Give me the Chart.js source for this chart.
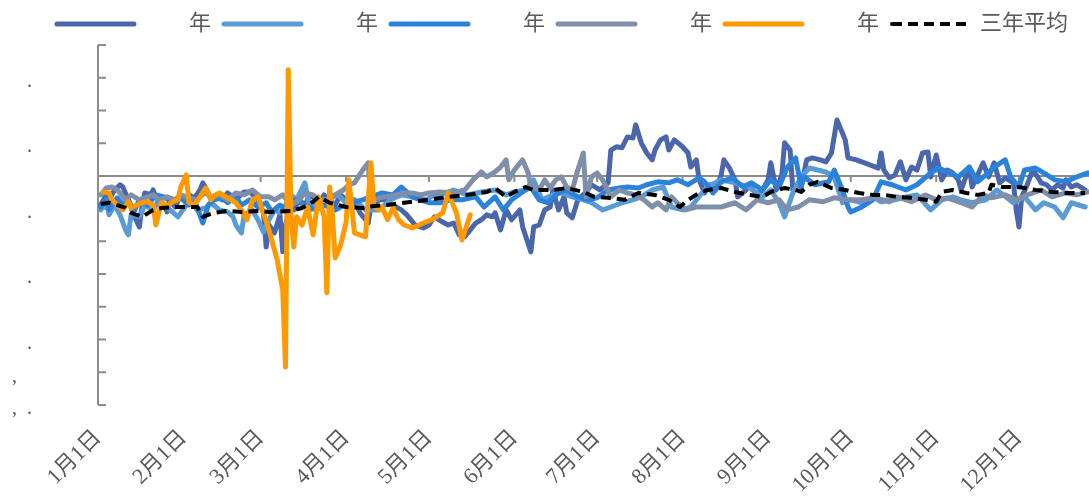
<!DOCTYPE html>
<html>
<head>
<meta charset="utf-8">
<script src="https://cdn.jsdelivr.net/npm/chart.js@4/dist/chart.umd.min.js"></script>
<style>
  body { margin: 0; background: #fff; }
  #chart { display: block; }
</style>
</head>
<body>
<canvas id="chart" width="1089" height="499"></canvas>
<script>
// x axis: day of the year, labelled at the first day of each month
const monthStarts = [0, 31, 59, 90, 120, 151, 181, 212, 243, 273, 304, 334];
const monthLabels = ['1月1日', '2月1日', '3月1日', '4月1日', '5月1日', '6月1日',
  '7月1日', '8月1日', '9月1日', '10月1日', '11月1日', '12月1日'];

// y axis ticks that carry a label (the others are blank)
const yTickValues = [30, 10, -10, -30, -50, -60, -70];
const yTickLabels = ['.', '.', '.', '.', '.', ',\u2007 ', ',\u2007.'];

const seriesNames = ['\u2007\u2007\u2007\u2007年', '\u2007\u2007\u2007\u2007年', '\u2007\u2007\u2007\u2007年',
  '\u2007\u2007\u2007\u2007年', '\u2007\u2007\u2007\u2007年', '三年平均'];

const navyDays = [1,3,4,6,8,9,11,13,15,16,17,19,20,21,22,24,25,26,28,30,32,33,35,37,38,40,41,43,45,47,
  49,51,53,55,57,58,60,61,62,64,66,67,68,70,71,73,75,77,79,80,82,84,86,88,90,91,93,95,98,99,
  102,104,107,110,112,115,118,120,122,125,127,129,131,133,135,137,139,141,143,144,146,148,150,153,154,157,158,160,162,164,
  165,167,169,170,172,174,177,179,182,185,186,188,190,192,194,195,197,199,201,202,204,206,207,209,212,214,215,217,218,220,
  222,224,226,227,229,231,232,235,236,239,241,243,244,246,248,249,251,252,254,255,257,259,262,264,266,268,271,272,275,278,
  283,284,285,287,289,291,293,295,297,299,301,302,304,306,308,310,312,313,316,317,319,321,323,325,327,329,332,333,334,335,
  337,339,341,342,344,346,348,350,351,353,355,358];
const navyVals = [-8.9,-5.8,-7.3,-4.3,-2.7,-3.4,-7.3,-11.9,-15.6,-8.9,-5.2,-5.8,-4.3,-6.7,-7.3,-8.9,-11.0,-7.3,-9.5,-5.8,
  -7.3,-5.8,-6.7,-4.3,-2.1,-5.2,-7.3,-5.8,-7.3,-5.2,-6.4,-6.4,-4.9,-4.9,-6.4,-7.3,-11.3,-21.7,-15.0,-17.4,
  -11.9,-23.2,-15.0,-8.9,-10.4,-7.3,-8.9,-5.8,-7.3,-8.9,-5.8,-7.3,-8.9,-5.8,-7.3,-8.9,-7.3,-11.3,-14.4,-8.9,
  -7.3,-7.3,-8.9,-10.4,-11.9,-15.0,-15.9,-15.0,-12.5,-14.1,-15.0,-14.4,-18.0,-18.6,-16.5,-14.4,-13.4,-11.9,-12.5,-11.3,
  -16.5,-10.4,-13.4,-10.4,-15.6,-23.2,-15.6,-15.0,-10.4,-9.5,-4.3,-10.4,-6.4,-11.3,-12.8,-7.3,-4.9,-2.7,-4.3,-2.1,
  7.9,8.9,8.6,11.9,11.6,15.6,10.1,7.0,4.9,7.9,11.0,11.9,7.9,11.0,8.9,7.0,2.7,4.9,-1.2,-5.2,
  -2.7,-4.3,0.3,4.9,2.4,-1.2,-6.4,-4.3,-2.7,-5.8,-4.3,-1.2,4.0,-4.3,0.3,10.1,7.9,-4.3,-2.7,-3.4,
  4.9,5.5,4.9,4.3,7.0,17.1,11.0,5.5,4.9,4.0,2.4,7.0,1.8,-0.6,0.3,4.3,-1.2,2.7,1.8,7.0,
  7.3,-0.3,6.4,-1.2,1.8,0.9,-1.2,-4.3,2.7,-3.4,0.3,4.0,-0.3,4.0,-2.1,-0.6,-2.1,-10.4,-15.6,-6.4,
  -2.7,1.8,-0.6,-2.1,-2.7,-4.3,-2.7,-3.7,-1.2,-3.4,-2.7,-4.3];

const lightDays = [1,3,4,6,8,10,11,12,15,17,20,22,24,27,29,32,34,36,39,41,44,47,49,50,52,53,56,58,60,62,
  64,66,68,70,72,75,77,80,83,87,90,93,97,102,106,110,114,119,122,126,129,134,139,144,148,151,155,158,161,165,
  168,172,176,179,183,186,190,194,197,201,205,208,212,215,219,221,226,231,236,241,244,247,249,252,255,258,261,264,267,270,
  273,277,281,284,289,293,297,302,306,310,313,317,322,326,332,336,340,343,347,350,353,358];
const lightVals = [-10.4,-7.3,-11.9,-8.9,-11.9,-16.5,-18.0,-11.9,-12.5,-8.9,-10.4,-7.3,-8.9,-11.0,-12.5,-8.9,-7.3,-10.4,-9.8,-8.2,
  -10.4,-11.0,-12.5,-15.0,-17.4,-11.9,-10.4,-13.4,-17.1,-13.4,-10.4,-11.3,-8.9,-5.8,-7.3,-2.1,-10.4,-7.3,-7.3,-5.8,
  -8.2,-7.3,-10.4,-10.4,-7.3,-5.8,-6.4,-7.3,-5.8,-5.2,-4.3,-5.8,-4.9,-4.3,-5.8,-4.9,-4.3,-1.2,-7.3,-5.8,
  -5.2,-6.4,-7.3,-8.2,-10.4,-9.5,-8.2,-7.3,-6.4,-4.3,-3.4,-9.5,-10.4,-9.5,-5.2,-3.4,-1.2,-2.1,-3.4,-6.4,
  -4.3,-8.2,-12.5,-5.2,-0.3,2.4,1.8,1.2,-0.3,-8.2,-7.3,-8.2,-6.4,-7.9,-7.3,-6.4,-5.8,-10.4,-7.3,-6.4,
  -7.3,-8.2,-7.3,-4.3,-8.2,-6.4,-10.4,-8.2,-9.5,-12.8,-8.2,-9.5];

const brightDays = [1,3,4,7,9,11,13,15,18,21,24,27,30,33,35,38,40,42,45,47,50,52,55,58,61,63,66,69,71,75,
  79,82,86,88,92,96,99,103,107,110,114,117,120,124,128,132,137,140,144,147,150,155,157,160,163,167,170,174,178,181,
  185,189,192,196,199,203,207,210,214,218,220,223,226,230,234,237,241,244,247,250,253,255,256,260,265,267,270,272,273,277,
  281,284,288,293,297,302,305,308,312,316,319,322,325,329,331,334,336,340,343,347,351,354,359];
const brightVals = [-9.5,-7.3,-10.4,-6.7,-8.9,-7.3,-11.0,-7.3,-8.9,-5.8,-6.4,-8.2,-6.7,-8.9,-7.3,-14.4,-8.9,-7.3,-6.7,-8.2,
  -6.4,-8.9,-7.3,-9.5,-8.2,-11.0,-8.9,-10.4,-7.3,-8.9,-10.4,-8.9,-10.4,-9.5,-8.2,-7.3,-6.4,-5.2,-5.8,-3.4,
  -6.4,-7.3,-8.2,-8.2,-7.3,-7.3,-6.4,-9.5,-6.4,-10.4,-7.3,-4.3,-3.4,-7.3,-8.2,-5.2,-4.3,-6.4,-7.3,-6.7,
  -4.3,-3.7,-3.4,-3.7,-2.7,-1.8,-2.1,-1.2,-2.7,-0.6,-1.8,-5.2,-1.8,-0.6,-3.4,-2.1,-4.3,-1.2,-3.4,2.7,
  5.5,-3.4,-0.3,-2.7,-1.8,1.8,-4.3,-9.5,-11.0,-9.5,-7.3,-1.8,-2.7,-4.3,-2.7,0.9,2.4,1.2,-0.3,2.7,
  -1.8,0.3,2.7,4.9,-0.3,-3.4,1.8,2.4,0.9,-1.2,-1.8,-0.6,0.9];

const grayDays = [1,3,5,7,10,12,15,17,20,22,25,28,30,33,36,39,41,44,47,50,53,56,59,62,64,67,70,73,75,78,
  80,83,86,89,91,93,96,98,99,102,104,108,111,114,117,120,124,129,133,136,139,141,144,146,148,149,151,154,156,157,
  160,162,164,166,168,170,172,174,176,177,179,181,183,186,189,192,195,198,201,203,206,208,210,213,217,221,226,231,235,239,
  243,247,250,254,258,263,267,272,277,282,287,290,295,300,304,308,313,317,321,324,329,333,337,342,346,351,355,359];
const grayVals = [-5.8,-3.7,-3.4,-4.3,-7.3,-5.8,-7.3,-6.7,-5.8,-7.3,-6.4,-7.3,-5.8,-6.7,-7.3,-4.9,-6.7,-5.8,-7.3,-5.2,
  -5.8,-4.3,-6.4,-6.4,-7.3,-5.8,-8.9,-7.3,-5.2,-5.8,-7.3,-7.3,-5.8,-4.3,-2.7,-2.1,1.8,4.0,-8.2,-6.7,
  -6.4,-5.8,-5.2,-5.2,-5.8,-5.2,-4.9,-5.2,-4.3,-1.2,1.2,-0.3,1.2,2.7,4.9,-1.2,1.8,4.9,0.9,-3.4,
  -4.3,-1.2,-3.7,-1.2,-0.3,-3.4,-4.3,1.8,7.0,-6.4,-0.3,0.9,-1.2,-6.4,-4.3,-5.2,-5.8,-7.3,-9.5,-8.2,
  -10.4,-6.4,-8.2,-10.4,-9.5,-9.5,-9.5,-8.2,-10.4,-7.3,-8.2,-7.3,-10.4,-9.5,-7.3,-7.9,-6.7,-7.3,-7.3,-6.7,
  -7.9,-6.4,-7.9,-5.8,-7.3,-6.7,-8.2,-9.5,-5.8,-6.7,-5.8,-7.3,-5.8,-4.3,-6.4,-5.2,-5.8,-4.9];

const orangeDays = [2,4,5,7,9,11,12,14,16,18,20,21,23,25,27,29,30,32,33,35,37,39,41,42,44,47,50,52,54,56,
  58,60,62,63,65,67,68,69,70,71,72,74,76,78,80,82,83,84,85,86,88,90,91,93,97,99,100,102,103,105,
  107,109,111,114,118,121,125,127,130,132,135];
const orangeVals = [-4.9,-5.2,-7.3,-8.9,-10.4,-7.9,-9.8,-8.9,-8.2,-7.9,-8.9,-15.0,-8.2,-9.2,-7.9,-7.3,-3.4,0.3,-8.2,-8.9,
  -6.4,-3.7,-7.3,-6.1,-5.2,-6.7,-8.2,-10.4,-13.4,-7.3,-6.4,-11.3,-16.5,-19.6,-25.7,-34.8,-58.4,32.4,-11.9,-21.7,
  -12.5,-15.0,-9.5,-18.0,-6.4,-12.5,-35.7,-3.4,-11.9,-25.1,-21.1,-14.1,-1.2,-17.4,-18.6,4.0,-8.9,-10.4,-9.5,-13.4,
  -9.8,-13.4,-15.0,-15.9,-14.4,-13.4,-11.3,-5.2,-11.3,-19.6,-11.9];

const avgDays = [1,4,7,10,12,16,20,23,28,33,36,37,38,42,47,52,58,62,70,74,78,80,84,90,96,100,105,111,120,127,
  134,141,144,148,151,155,158,165,170,176,180,185,191,196,202,207,211,214,218,221,226,231,236,241,244,249,253,255,258,261,
  266,271,276,281,285,290,295,300,304,306,310,315,319,323,324,328,334,340,346,352,358];
const avgVals = [-8.6,-8.2,-8.9,-9.8,-11.3,-12.5,-10.4,-9.8,-9.5,-9.5,-9.5,-11.0,-12.5,-11.3,-10.7,-11.0,-10.7,-11.0,-10.7,-9.8,
  -7.9,-6.4,-8.2,-9.5,-9.8,-9.2,-8.9,-8.2,-7.3,-6.4,-5.8,-4.9,-3.7,-6.4,-4.9,-3.4,-4.3,-4.3,-3.7,-4.9,
  -6.4,-6.7,-7.3,-5.2,-5.8,-7.3,-9.5,-7.3,-5.2,-4.3,-3.7,-4.9,-5.8,-6.4,-4.9,-3.7,-4.3,-4.9,-2.7,-1.8,
  -3.7,-4.3,-5.2,-5.8,-5.8,-6.4,-6.7,-7.3,-7.9,-4.9,-4.3,-5.2,-5.8,-5.2,-2.7,-3.4,-3.4,-4.3,-4.9,-5.2,
  -5.2];

function points(days, vals) {
  return days.map((d, i) => ({ x: d, y: vals[i] }));
}

const textColor = '#595959';
const axisColor = '#8c8c8c';

// y axis line with inward ticks, the zero line and the month ticks hanging off it
const axisMarks = {
  id: 'axisMarks',
  afterLayout(chart) {
    // legend row starts further right than the canvas edge
    chart.legend.left = 44;
  },
  beforeDatasetsDraw(chart) {
    const { ctx, chartArea, scales: { x, y } } = chart;
    const zero = y.getPixelForValue(0);
    ctx.save();
    ctx.strokeStyle = axisColor;
    ctx.lineWidth = 2;
    ctx.beginPath();
    ctx.moveTo(chartArea.left, chartArea.top);
    ctx.lineTo(chartArea.left, chartArea.bottom);
    y.ticks.forEach(t => {
      const py = y.getPixelForValue(t.value);
      ctx.moveTo(chartArea.left, py);
      ctx.lineTo(chartArea.left + 8, py);
    });
    ctx.moveTo(chartArea.left, zero);
    ctx.lineTo(chartArea.right, zero);
    x.ticks.forEach(t => {
      const px = x.getPixelForValue(t.value);
      ctx.moveTo(px, zero);
      ctx.lineTo(px, zero + 6);
    });
    ctx.stroke();
    ctx.restore();
  }
};

const lineStyle = { borderWidth: 5, pointRadius: 0, tension: 0, borderJoinStyle: 'round', borderCapStyle: 'round' };

const datasets = [
  { label: seriesNames[0], data: points(navyDays, navyVals), borderColor: '#4a66ac', order: 6 },
  { label: seriesNames[1], data: points(lightDays, lightVals), borderColor: '#5b9bd5', order: 5 },
  { label: seriesNames[2], data: points(brightDays, brightVals), borderColor: '#2a82da', order: 4 },
  { label: seriesNames[3], data: points(grayDays, grayVals), borderColor: '#7f8fa9', order: 3 },
  { label: seriesNames[4], data: points(orangeDays, orangeVals), borderColor: '#ff9900', order: 2 },
  { label: seriesNames[5], data: points(avgDays, avgVals), borderColor: '#000000', order: 1,
    borderWidth: 4, borderDash: [10, 6], borderCapStyle: 'butt' }
].map(ds => Object.assign({}, lineStyle, { backgroundColor: ds.borderColor }, ds));

new Chart(document.getElementById('chart'), {
  type: 'line',
  data: { datasets },
  options: {
    responsive: false,
    animation: false,
    devicePixelRatio: 1,
    events: [],
    layout: { padding: 0 },
    plugins: {
      tooltip: { enabled: false },
      legend: {
        position: 'top',
        align: 'start',
        labels: {
          boxWidth: 77,
          boxHeight: 0,
          padding: 13,
          color: textColor,
          font: { family: "'Liberation Serif', 'Noto Sans CJK SC', serif", size: 22 },
          sort: (a, b) => a.datasetIndex - b.datasetIndex
        }
      }
    },
    scales: {
      x: {
        type: 'linear',
        min: 0,
        max: 359.4,
        afterBuildTicks: scale => { scale.ticks = monthStarts.map(v => ({ value: v })); },
        afterFit: scale => { scale.height = 94; scale.paddingLeft = 0; scale.paddingRight = 0; },
        grid: { display: false, drawTicks: false },
        border: { display: false },
        ticks: {
          autoSkip: false,
          minRotation: 45,
          maxRotation: 45,
          padding: 20,
          color: textColor,
          font: { family: "'Liberation Serif', 'Noto Sans CJK SC', serif", size: 22 },
          callback: v => monthLabels[monthStarts.indexOf(v)]
        }
      },
      y: {
        min: -70,
        max: 40,
        afterFit: scale => { scale.width = 98; scale.paddingTop = 0; scale.paddingBottom = 0; },
        grid: { display: false, drawTicks: false },
        border: { display: false },
        ticks: {
          stepSize: 10,
          padding: 66,
          labelOffset: 4,
          color: textColor,
          font: { family: "'Liberation Serif', serif", size: 20 },
          callback: v => {
            const i = yTickValues.indexOf(v);
            return i >= 0 ? yTickLabels[i] : '';
          }
        }
      }
    }
  },
  plugins: [axisMarks]
});
</script>
</body>
</html>
